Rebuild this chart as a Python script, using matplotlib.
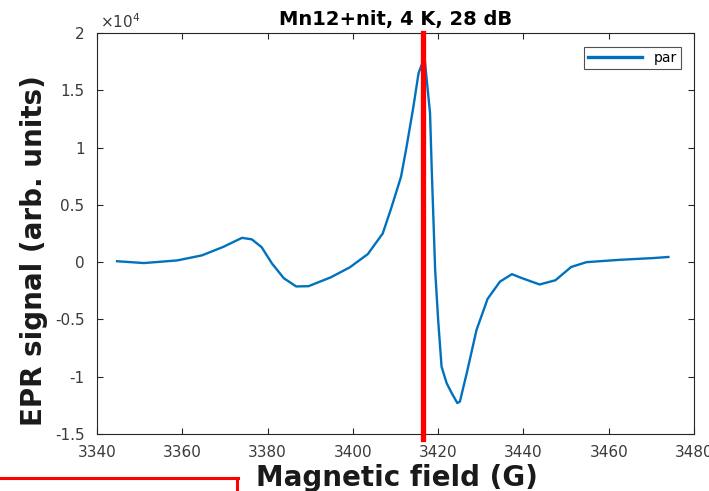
import matplotlib
matplotlib.use("Agg")
import matplotlib.pyplot as plt
from matplotlib.lines import Line2D
from matplotlib.ticker import FuncFormatter
import numpy as np

plt.rcParams['font.family'] = ['DejaVu Sans']
plt.rcParams['axes.unicode_minus'] = False

# EPR spectrum, parallel mode (field in G, signal in units of 1e4)
field = [3344.7, 3351.0, 3358.8, 3364.6, 3369.6, 3374.0, 3376.3, 3378.6, 3381.0,
         3383.8, 3386.7, 3389.6, 3394.8, 3399.3, 3403.5, 3407.0, 3408.9, 3411.3,
         3412.6, 3414.2, 3415.4, 3416.8, 3418.1, 3418.5, 3418.9, 3419.3, 3420.0,
         3420.8, 3422.0, 3423.2, 3424.5, 3425.1, 3426.7, 3429.0, 3431.6, 3434.5,
         3437.3, 3439.6, 3443.8, 3447.5, 3451.2, 3454.8, 3462.5, 3470.6, 3474.0]
signal_e4 = [0.008, -0.008, 0.015, 0.059, 0.133, 0.212, 0.199, 0.131, -0.01,
             -0.14, -0.212, -0.21, -0.133, -0.045, 0.07, 0.25, 0.46, 0.746,
             1.008, 1.357, 1.648, 1.79, 1.30, 0.805, 0.368, -0.068, -0.504,
             -0.912, -1.057, -1.144, -1.23, -1.217, -0.97, -0.592, -0.32, -0.17,
             -0.105, -0.139, -0.195, -0.158, -0.042, 0.0, 0.02, 0.036, 0.045]
marker_field = 3416.5

x_ticks = [3340, 3360, 3380, 3400, 3420, 3440, 3460, 3480]
y_ticks = [-1.5e4, -1e4, -0.5e4, 0, 0.5e4, 1e4, 1.5e4, 2e4]
y_scale = 1e4

signal = np.array(signal_e4) * y_scale

W, H = 709, 491
fig = plt.figure(figsize=(W / 100, H / 100), dpi=100)
ax = fig.add_axes([97 / W, 1 - 434 / H, (694 - 97) / W, (434 - 33) / H])

ax.plot(field, signal, color='#0072BD', lw=1.7, label='par')
ax.axvline(marker_field, ymin=-0.013, ymax=1.0, color='#FF0000', lw=3.8,
           clip_on=False, zorder=5)

ax.set_xlim(3340, 3480)
ax.set_ylim(-1.5e4, 2e4)
ax.set_xticks(x_ticks)
ax.set_yticks(y_ticks)
ax.yaxis.set_major_formatter(FuncFormatter(lambda v, p: '%g' % (v / y_scale)))

tick_col = '#3a3a3a'
ax.tick_params(direction='in', top=True, right=True, length=4, width=0.8,
               labelsize=11, colors='#262626', labelcolor=tick_col)
ax.tick_params(axis='y', pad=9)
ax.tick_params(axis='x', pad=8)
for sp in ax.spines.values():
    sp.set_color('#262626')
    sp.set_linewidth(0.8)

fig.text(100 / W, 1 - 28 / H, r'$\times 10^{4}$', fontsize=11, color=tick_col,
         ha='left', va='baseline')

ax.set_title('Mn12+nit, 4 K, 28 dB', fontsize=14, fontweight='bold', pad=6)
fig.text(397 / W, 1 - 486 / H, 'Magnetic field (G)', fontsize=20,
         fontweight='bold', ha='center', va='baseline', color='#1a1a1a')
fig.text(42 / W, 1 - 251 / H, 'EPR signal (arb. units)', fontsize=20,
         fontweight='bold', rotation=90, rotation_mode='anchor',
         ha='center', va='baseline', color='#1a1a1a')

leg = ax.legend(loc='upper right', fontsize=10, frameon=True, fancybox=False,
                edgecolor='#262626', handlelength=3.9, handletextpad=0.8,
                borderpad=0.3, borderaxespad=0.0,
                bbox_to_anchor=(0.978, 0.965))
leg.get_frame().set_linewidth(0.8)
for h in leg.get_lines():
    h.set_linewidth(2.4)

# red outline partially visible in the lower-left corner
fig.add_artist(Line2D([0, 238 / W], [1 - 478 / H, 1 - 478 / H],
                      transform=fig.transFigure, color='#FF0000', lw=2.2))
fig.add_artist(Line2D([237 / W, 237 / W], [1 - 478 / H, 0],
                      transform=fig.transFigure, color='#FF0000', lw=2.2))

fig.savefig('out.png', dpi=100)
